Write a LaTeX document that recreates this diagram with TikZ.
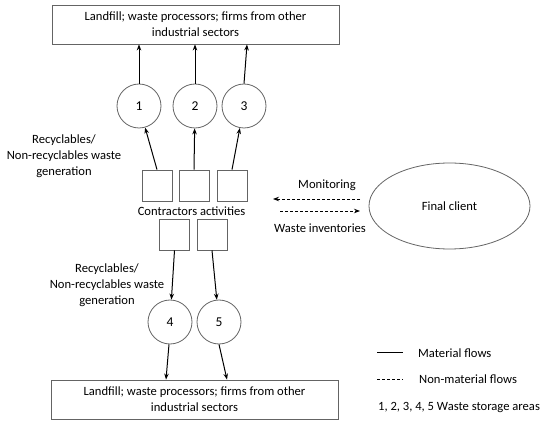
\documentclass[tikz,border=0pt]{standalone}
\usepackage{fontspec}
\setmainfont{Carlito}
\usetikzlibrary{arrows.meta,shapes.geometric}
\definecolor{shapegray}{RGB}{100,100,100}

\begin{document}
\begin{tikzpicture}[x=1pt, y=-1pt,
    sink/.style={rectangle, draw=shapegray, line width=0.8pt, minimum width=287pt, minimum height=39pt,
        align=center, font=\fontsize{12.6}{16}\selectfont},
    storage/.style={circle, draw=shapegray, line width=0.8pt, minimum size=44pt, inner sep=0pt,
        font=\fontsize{13.5}{16}\selectfont},
    activity/.style={rectangle, draw=shapegray, line width=0.8pt, minimum width=30pt, minimum height=31pt, inner sep=0pt},
    client/.style={ellipse, draw=shapegray, line width=0.8pt, minimum width=161pt, minimum height=86pt,
        inner sep=0pt, font=\fontsize{12.6}{16}\selectfont},
    lbl/.style={align=center, inner sep=0pt, font=\fontsize{12.6}{16}\selectfont},
    arrow/.style={-{Stealth[length=6pt,width=4.5pt]}, line width=1pt},
    dasharrow/.style={-{Stealth[length=6pt,width=4.5pt]}, line width=0.9pt, dash pattern=on 3pt off 2pt},
]
\useasboundingbox (0,0) rectangle (550,425);

% destinations
\node[sink] (top) at (195.5,24.5) {Landfill; waste processors; firms from other\\industrial sectors};
\node[sink] (bot) at (194.5,399.5) {Landfill; waste processors; firms from other\\industrial sectors};

% waste storage areas
\node[storage] (s1) at (139,106) {1};
\node[storage] (s2) at (195,106) {2};
\node[storage] (s3) at (244,106) {3};
\node[storage] (s4) at (170,322) {4};
\node[storage] (s5) at (219,322) {5};

% contractors activities
\node[activity] (a1) at (157,185.5) {};
\node[activity] (a2) at (194,185.5) {};
\node[activity] (a3) at (232,185.5) {};
\node[lbl] (act) at (191.5,211) {Contractors activities};
\node[activity] (a4) at (174.5,234.5) {};
\node[activity] (a5) at (212,234.5) {};

\node[client] (client) at (449.5,206) {Final client};

\node[lbl] (gen1) at (64,156) {Recyclables/\\Non-recyclables waste\\generation};
\node[lbl] (gen2) at (107,285) {Recyclables/\\Non-recyclables waste\\generation};

% material flows
\draw[arrow] (a1.north) -- (s1);
\draw[arrow] (a2.north) -- (s2);
\draw[arrow] (a3.north) -- (s3);
\draw[arrow] (s1.north) -- (s1.north |- top.south);
\draw[arrow] (s2.north) -- (s2.north |- top.south);
\draw[arrow] (s3.north) -- ([xshift=3pt]s3.north |- top.south);
\draw[arrow] (a4.south) -- (s4);
\draw[arrow] (a5.south) -- (s5);
\draw[arrow] ([xshift=-1pt]s4.south) -- ([xshift=-4pt]s4.south |- bot.north);
\draw[arrow] (s5.south) -- ([xshift=8pt]s5.south |- bot.north);

% non-material flows
\coordinate (monA) at (360,199);
\coordinate (monB) at (273,199);
\coordinate (invA) at (280,211);
\coordinate (invB) at (360,211);
\draw[dasharrow] (monA) -- (monB);
\draw[dasharrow] (invA) -- (invB);
\node[lbl] (mon) at (327,185) {Monitoring};
\node[lbl] (inv) at (320,228) {Waste inventories};

% legend
\coordinate (leg1a) at (377,353);
\coordinate (leg1b) at (403,353);
\coordinate (leg2a) at (377,379);
\coordinate (leg2b) at (403,379);
\draw[line width=1pt] (leg1a) -- (leg1b);
\draw[line width=0.9pt, dash pattern=on 3pt off 2pt] (leg2a) -- (leg2b);
\node[lbl, anchor=west] (legm) at (418,353) {Material flows};
\node[lbl, anchor=west] (legn) at (419,379) {Non-material flows};
\node[lbl, anchor=west] (legs) at (378,407) {1, 2, 3, 4, 5 Waste storage areas};
\end{tikzpicture}
\end{document}
